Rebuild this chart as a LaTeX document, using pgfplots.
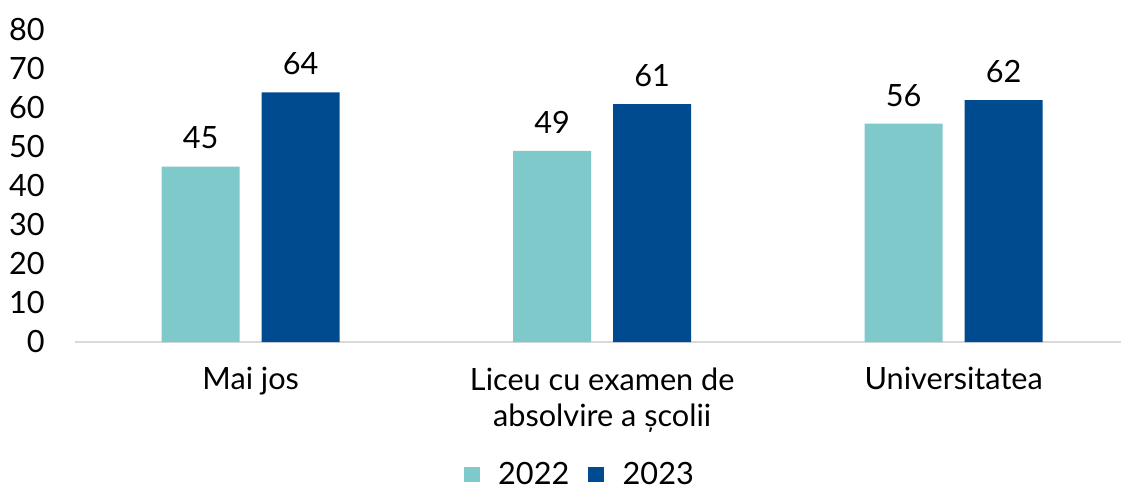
\documentclass[border=0pt]{standalone}
\usepackage{pgfplots}
\pgfplotsset{compat=1.18}
\usepackage{fontspec}
\setmainfont{Lato}
\definecolor{cA}{HTML}{80C9CB}
\definecolor{cB}{HTML}{004A90}
\definecolor{baseC}{HTML}{D9D9D9}
\begin{document}
\begin{tikzpicture}
\path[use as bounding box] (0,0) rectangle (840.75pt,367.5pt);
\begin{axis}[
  at={(56.25pt,111pt)}, anchor=south west,
  scale only axis,
  width=784.5pt, height=234pt,
  xmin=-0.5, xmax=2.476,
  ymin=0, ymax=80,
  ybar=16.5pt, bar width=58.5pt,
  axis lines=left,
  axis line style={-},
  y axis line style={draw=none},
  x axis line style={draw=baseC, line width=1.5pt},
  major tick length=0pt,
  xtick={0,1,2},
  xticklabels={Mai jos, {Liceu cu examen de\\absolvire a școlii}, Universitatea},
  ytick={0,10,...,80},
  /pgf/number format/assume math mode=true,
  tick label style={font=\fontsize{23}{27}\selectfont},
  yticklabel style={anchor=east, inner sep=0pt, xshift=-22.5pt},
  xticklabel style={anchor=north, align=center, inner sep=0pt, yshift=-19pt},
  nodes near coords,
  every node near coord/.append style={font=\fontsize{23}{27}\selectfont, anchor=south, inner sep=0pt, yshift=12.75pt},
  legend columns=2,
  legend style={at={(0.4828,-0.425)}, anchor=center, draw=none, fill=none,
    font=\fontsize{23}{27}\selectfont, column sep=12pt, inner sep=0pt},
  legend image code/.code={\fill[#1] (0pt,-5.6pt) rectangle (12pt,5.6pt);},
]
\addplot[fill=cA, draw=none] coordinates {(0,45) (1,49) (2,56)};
\addplot[fill=cB, draw=none] coordinates {(0,64) (1,61) (2,62)};
\legend{2022,2023}
\end{axis}
\end{tikzpicture}
\end{document}
